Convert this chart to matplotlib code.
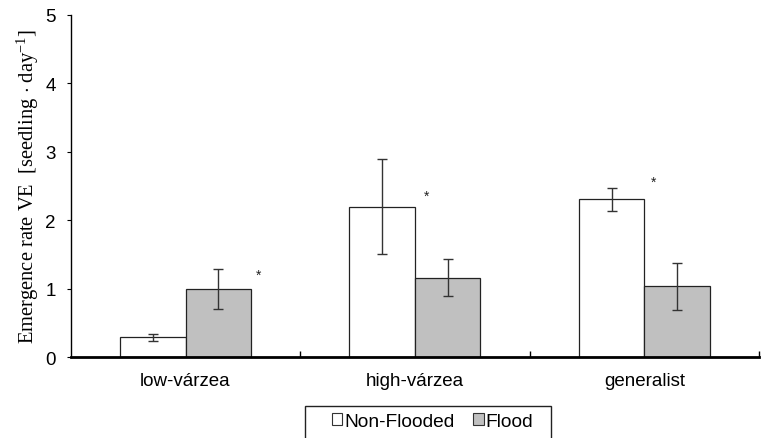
import numpy as np
import matplotlib
matplotlib.use('Agg')
import matplotlib.pyplot as plt
from matplotlib.patches import Patch, Rectangle

categories = ['low-várzea', 'high-várzea', 'generalist']
non_flooded = [0.29, 2.20, 2.31]
non_flooded_lo = [0.23, 1.51, 2.14]
non_flooded_hi = [0.34, 2.89, 2.47]
flood = [0.99, 1.16, 1.04]
flood_lo = [0.70, 0.89, 0.69]
flood_hi = [1.28, 1.43, 1.38]
star_x = [0.32, 1.05, 2.04]
star_y = [1.20, 2.35, 2.56]


def main():
   plt.rcParams['mathtext.fontset'] = 'custom'
   plt.rcParams['mathtext.rm'] = 'Liberation Serif'
   plt.rcParams['mathtext.it'] = 'Liberation Serif:italic'

   fig = plt.figure(figsize=(7.62, 4.39), dpi=100)
   ax = fig.add_axes([0.093, 0.1845, 0.903, 0.7791])

   x = np.arange(len(categories))
   w = 0.2857
   nf = np.array(non_flooded)
   fl = np.array(flood)
   nf_err = [nf - np.array(non_flooded_lo), np.array(non_flooded_hi) - nf]
   fl_err = [fl - np.array(flood_lo), np.array(flood_hi) - fl]

   ekw = dict(ecolor='#333333', elinewidth=1.0, capsize=3.6, capthick=1.0)
   ax.bar(x - w/2, nf, w, color='white', edgecolor='#222222', linewidth=0.9,
          yerr=nf_err, error_kw=ekw, zorder=2)
   ax.bar(x + w/2, fl, w, color='#c0c0c0', edgecolor='#222222', linewidth=0.9,
          yerr=fl_err, error_kw=ekw, zorder=2)

   for sx, sy in zip(star_x, star_y):
      ax.text(sx, sy, '*', ha='center', va='center', fontsize=10,
              family='Liberation Sans', color='#222222')

   ax.set_xlim(-0.5, 2.5)
   ax.set_ylim(0, 5)
   ax.set_yticks([0, 1, 2, 3, 4, 5])
   ax.set_xticks([0.5, 1.5, 2.5])
   ax.set_xticklabels([])
   ax.set_xticks(x, minor=True)
   ax.set_xticklabels(categories, minor=True, family='Liberation Sans', fontsize=13.5)
   ax.tick_params(axis='x', which='minor', length=0, pad=11)
   ax.tick_params(axis='x', which='major', direction='in', length=4, width=1)
   ax.tick_params(axis='y', direction='out', length=3, width=0.8, pad=8,
                  labelsize=13.5)
   for lab in ax.get_yticklabels():
      lab.set_family('Liberation Sans')

   ax.spines['top'].set_visible(False)
   ax.spines['right'].set_visible(False)
   ax.spines['left'].set_linewidth(1.0)
   ax.spines['bottom'].set_linewidth(2.0)

   ax.set_ylabel(r'Emergence rate VE  [seedling $\cdot$ day$^{-1}$]',
                 family='Liberation Serif', fontsize=14.8, labelpad=3)

   handles = [Patch(facecolor='white', edgecolor='#333333', linewidth=0.8,
                    label='Non-Flooded'),
              Patch(facecolor='#c0c0c0', edgecolor='#333333', linewidth=0.8,
                    label='Flood')]
   fig.legend(handles=handles, loc='upper center',
              bbox_to_anchor=(0.5676, 0.057), ncol=2, frameon=False,
              handlelength=0.55, handleheight=0.55, handletextpad=0.1,
              columnspacing=1.0, borderpad=0, borderaxespad=0,
              prop={'family': 'Liberation Sans', 'size': 13.8})
   # legend box in the original is wider than its content and runs off the bottom
   fig.add_artist(Rectangle((0.4003, -0.3), 0.3228, 0.3729,
                            transform=fig.transFigure, fill=False,
                            edgecolor='#222222', linewidth=1.0))

   fig.savefig('out.png', dpi=100)


if __name__ == '__main__':
   main()
